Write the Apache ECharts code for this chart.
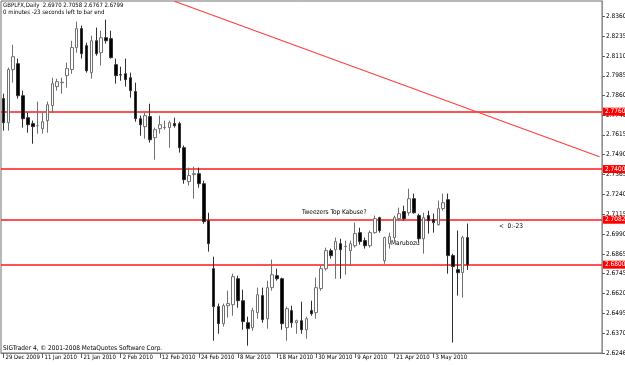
<!DOCTYPE html>
<html><head><meta charset="utf-8">
<script src="https://cdn.jsdelivr.net/npm/echarts@6/dist/echarts.min.js"></script>
<style>html,body{margin:0;padding:0;background:#fff}#c{width:625px;height:365px}</style>
</head><body><div id="c"></div>
<script>
const dates = ['29 Dec 2009','30 Dec 2009','31 Dec 2009',
'4 Jan 2010','5 Jan 2010','6 Jan 2010','7 Jan 2010','8 Jan 2010','11 Jan 2010','12 Jan 2010','13 Jan 2010','14 Jan 2010','15 Jan 2010',
'18 Jan 2010','19 Jan 2010','20 Jan 2010','21 Jan 2010','22 Jan 2010','25 Jan 2010','26 Jan 2010','27 Jan 2010','28 Jan 2010','29 Jan 2010',
'1 Feb 2010','2 Feb 2010','3 Feb 2010','4 Feb 2010','5 Feb 2010','8 Feb 2010','9 Feb 2010','10 Feb 2010','11 Feb 2010','12 Feb 2010',
'15 Feb 2010','16 Feb 2010','17 Feb 2010','18 Feb 2010','19 Feb 2010','22 Feb 2010','23 Feb 2010','24 Feb 2010','25 Feb 2010','26 Feb 2010',
'1 Mar 2010','2 Mar 2010','3 Mar 2010','4 Mar 2010','5 Mar 2010','8 Mar 2010','9 Mar 2010','10 Mar 2010','11 Mar 2010','12 Mar 2010',
'15 Mar 2010','16 Mar 2010','17 Mar 2010','18 Mar 2010','19 Mar 2010','22 Mar 2010','23 Mar 2010','24 Mar 2010','25 Mar 2010','26 Mar 2010',
'29 Mar 2010','30 Mar 2010','31 Mar 2010','1 Apr 2010','2 Apr 2010','5 Apr 2010','6 Apr 2010','7 Apr 2010','8 Apr 2010','9 Apr 2010',
'12 Apr 2010','13 Apr 2010','14 Apr 2010','15 Apr 2010','16 Apr 2010','19 Apr 2010','20 Apr 2010','21 Apr 2010','22 Apr 2010','23 Apr 2010',
'26 Apr 2010','27 Apr 2010','28 Apr 2010','29 Apr 2010','30 Apr 2010','3 May 2010','4 May 2010','5 May 2010','6 May 2010','7 May 2010',
'10 May 2010','11 May 2010','12 May 2010'];
const futureSlots = 27;
const opens = [2.7842,2.7691,2.8024,2.8061,2.7860,2.7722,2.7685,2.7672,2.7653,2.7704,
2.7798,2.7917,2.7942,2.7986,2.8024,2.8162,2.8281,2.8174,2.8005,2.8205,
2.8130,2.8224,2.8218,2.8055,2.7992,2.7998,2.7973,2.7886,2.7716,2.7666,
2.7729,2.7597,2.7653,2.7660,2.7660,2.7685,2.7685,2.7534,2.7321,2.7365,
2.7371,2.7308,2.7076,2.6775,2.6537,2.6430,2.6543,2.6549,2.6712,2.6574,
2.6436,2.6405,2.6499,2.6606,2.6461,2.6656,2.6731,2.6712,2.6405,2.6512,
2.6436,2.6449,2.6392,2.6512,2.6499,2.6650,2.6775,2.6888,2.6894,2.6932,
2.6913,2.6888,2.6919,2.7001,2.6951,2.6919,2.7001,2.7095,2.6825,2.6932,
2.6970,2.7089,2.7133,2.7126,2.7214,2.7108,2.6963,2.7108,2.7083,2.7051,
2.7152,2.7208,2.6857,2.6769,2.6750,2.6970];
const closes = [2.7691,2.8024,2.8105,2.7860,2.7716,2.7678,2.7666,2.7672,2.7697,2.7804,
2.7936,2.7948,2.7945,2.8030,2.8162,2.8281,2.8124,2.8017,2.8205,2.8124,
2.8224,2.8205,2.8099,2.7986,2.7990,2.7961,2.7892,2.7716,2.7678,2.7735,
2.7584,2.7647,2.7678,2.7662,2.7691,2.7672,2.7534,2.7333,2.7359,2.7371,
2.7308,2.7070,2.6932,2.6537,2.6430,2.6543,2.6556,2.6725,2.6574,2.6443,
2.6399,2.6512,2.6612,2.6455,2.6656,2.6737,2.6712,2.6430,2.6524,2.6436,
2.6449,2.6392,2.6461,2.6493,2.6656,2.6775,2.6888,2.6857,2.6945,2.6894,
2.6915,2.6932,2.6995,2.6945,2.6919,2.7001,2.7089,2.7014,2.6970,2.6976,
2.7095,2.7120,2.7089,2.7214,2.7126,2.6963,2.7095,2.7076,2.7064,2.7152,
2.7189,2.6857,2.6788,2.6750,2.6970,2.6799];
const lows = [2.7641,2.7641,2.7942,2.7842,2.7660,2.7628,2.7559,2.7622,2.7622,2.7628,
2.7754,2.7892,2.7873,2.7911,2.7998,2.8130,2.8093,2.8005,2.7967,2.8111,
2.8049,2.8187,2.8093,2.7936,2.7954,2.7917,2.7848,2.7697,2.7609,2.7591,
2.7566,2.7459,2.7622,2.7647,2.7534,2.7660,2.7503,2.7308,2.7296,2.7214,
2.7283,2.7057,2.6882,2.6323,2.6367,2.6411,2.6468,2.6480,2.6530,2.6392,
2.6292,2.6386,2.6461,2.6436,2.6399,2.6637,2.6700,2.6392,2.6323,2.6405,
2.6367,2.6367,2.6336,2.6480,2.6461,2.6637,2.6763,2.6838,2.6712,2.6712,
2.6737,2.6794,2.6907,2.6926,2.6901,2.6907,2.6995,2.7001,2.6806,2.6901,
2.6938,2.7076,2.7076,2.7108,2.7120,2.6938,2.6869,2.6995,2.7001,2.7045,
2.7139,2.6744,2.6311,2.6606,2.6593,2.6767];
const highs = [2.7873,2.8036,2.8180,2.8093,2.7892,2.7754,2.7704,2.7823,2.7754,2.7823,
2.7973,2.7967,2.7973,2.8068,2.8205,2.8325,2.8300,2.8193,2.8237,2.8287,
2.8268,2.8337,2.8268,2.8093,2.8042,2.8093,2.8005,2.7942,2.7735,2.7754,
2.7810,2.7660,2.7735,2.7704,2.7704,2.7722,2.7697,2.7547,2.7409,2.7415,
2.7409,2.7327,2.7126,2.6850,2.6556,2.6556,2.6637,2.6744,2.6731,2.6643,
2.6474,2.6530,2.6656,2.6656,2.6700,2.6832,2.6775,2.6719,2.6537,2.6543,
2.6455,2.6568,2.6474,2.6574,2.6719,2.6794,2.6907,2.6901,2.6970,2.6963,
2.6951,2.6951,2.7064,2.7032,2.6970,2.7014,2.7108,2.7101,2.6976,2.7001,
2.7108,2.7158,2.7170,2.7277,2.7246,2.7120,2.7126,2.7139,2.7120,2.7202,
2.7246,2.7246,2.6869,2.7014,2.6982,2.7058];
const yTickLabels = ['2.8360','2.8235','2.8110','2.7985','2.7860','2.7740','2.7615','2.7490','2.7365',
'2.7240','2.7115','2.6990','2.6865','2.6745','2.6620','2.6495','2.6370','2.6246'];
const hLevels = [2.7760, 2.7400, 2.7082, 2.6800];
const trendLine = [[35, 2.8453], [122, 2.7477]];
const header1 = 'GBPLFX,Daily  2.6970 2.7058 2.6767 2.6799';
const header2 = '0 minutes -23 seconds left to bar end';
const copyright = 'SIGTrader 4, \u00a9 2001-2008 MetaQuotes Software Corp.';
const notes = [{text:'Tweezers Top Kabuse?', x:302, y:209}, {text:'Marubozu', x:391, y:240}, {text:'<  0:-23', x:499, y:223}];

const categories = dates.slice();
for (let i = 0; i < futureSlots; i++) categories.push('f' + i);
const ohlc = opens.map((o, i) => [o, closes[i], lows[i], highs[i]]);
const FONT = "'Liberation Sans Narrow','DejaVu Sans Condensed','Liberation Sans',sans-serif";
const yMin = 2.6246, yMax = 2.6246 + 352 / 1594;
const showX = (idx) => idx % 8 === 0 && idx < dates.length;

const chart = echarts.init(document.getElementById('c'), null, {renderer: 'canvas'});
chart.setOption({
  animation: false,
  backgroundColor: '#fff',
  grid: {left: 1, right: 23, top: 1, bottom: 12, containLabel: false, outerBoundsMode: 'none',
    show: true, borderColor: '#707070', borderWidth: 1, backgroundColor: '#fff'},
  xAxis: {
    type: 'category', data: categories, boundaryGap: true,
    axisLine: {lineStyle: {color: '#808080'}},
    axisTick: {show: true, interval: (i) => showX(i), alignWithLabel: true, length: 5, lineStyle: {color: '#606060'}},
    axisLabel: {interval: (i) => showX(i), showMinLabel: true, hideOverlap: false, align: 'left', margin: 1,
      padding: [0,0,0,2], fontSize: 6, fontFamily: FONT, color: '#000'},
    splitLine: {show: false}
  },
  yAxis: [{
    type: 'value', position: 'right', min: yMin, max: yMax, scale: true,
    axisLine: {show: true, lineStyle: {color: '#909090'}},
    axisTick: {show: true, length: 3, customValues: yTickLabels.map(Number), lineStyle: {color: '#606060'}},
    axisLabel: {customValues: yTickLabels.map(Number), formatter: (v) => v.toFixed(4), margin: 4, fontSize: 6.5, fontFamily: FONT, color: '#000'},
    splitLine: {show: false}
  }, {
    type: 'value', position: 'right', min: yMin, max: yMax, scale: true,
    axisLine: {show: false},
    axisTick: {show: false, customValues: hLevels},
    axisLabel: {customValues: hLevels, formatter: (v) => v.toFixed(4), margin: 1, fontSize: 6.5, fontFamily: FONT,
      color: '#fff', backgroundColor: '#ff0000', padding: [1, 2, 0, 2]},
    splitLine: {show: true, lineStyle: {color: '#ff1a1a', width: 1.5, type: 'solid'}}
  }],
  series: [{
    type: 'candlestick', data: ohlc, barWidth: 3, z: 2,
    itemStyle: {color: '#ffffff', color0: '#000000', borderColor: '#707070', borderColor0: '#303030', borderWidth: 1}
  }, {
    type: 'line', data: [], z: 5, silent: true,
    markLine: {
      silent: true, symbol: ['none', 'none'], animation: false, precision: 4,
      lineStyle: {color: '#ff4040', width: 1.2, type: 'solid', opacity: 1},
      label: {show: false},
      data: [[{coord: trendLine[0]}, {coord: trendLine[1]}]]
    }
  }],
  graphic: [
    {type: 'text', left: 3, top: 2, style: {text: header1, font: '6px ' + FONT, fill: '#000'}},
    {type: 'text', left: 3, top: 9, style: {text: header2, font: '6px ' + FONT, fill: '#000'}},
    {type: 'text', left: 3, top: 345, style: {text: copyright, font: '6.5px ' + FONT, fill: '#000'}}
  ].concat(notes.map(n => ({type: 'text', left: n.x, top: n.y, style: {text: n.text, font: '6.5px ' + FONT, fill: '#000'}})))
});
</script></body></html>
